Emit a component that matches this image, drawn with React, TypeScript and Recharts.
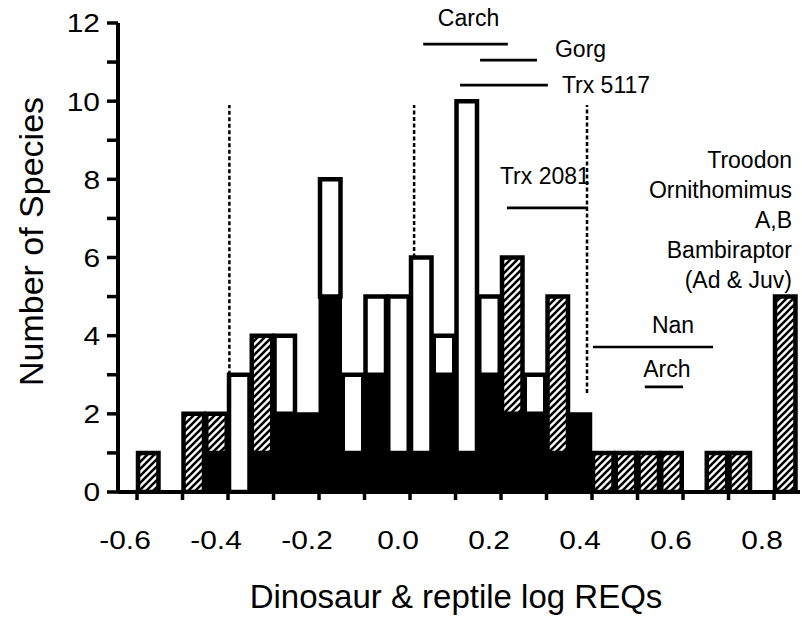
import { ComposedChart, Bar, XAxis, YAxis, ReferenceLine, ReferenceDot } from 'recharts';

const FONT = '"Liberation Sans", Arial, Helvetica, sans-serif';

// histogram bins of log REQ, 0.05 wide (left edge of each bin)
const binStart = [
  -0.6, -0.55, -0.5, -0.45, -0.4, -0.35, -0.3, -0.25, -0.2, -0.15,
  -0.1, -0.05, 0, 0.05, 0.1, 0.15, 0.2, 0.25, 0.3, 0.35,
  0.4, 0.45, 0.5, 0.55, 0.6, 0.65, 0.7, 0.75, 0.8,
];
// black part (bottom of each stack)
const solidCounts = [0, 0, 0, 1, 0, 1, 2, 2, 5, 1, 3, 1, 1, 3, 1, 3, 2, 2, 1, 2, 0, 0, 0, 0, 0, 0, 0, 0, 0];
// hatched part
const hatchedCounts = [1, 0, 2, 1, 0, 3, 0, 0, 0, 0, 0, 0, 0, 0, 0, 0, 4, 0, 4, 0, 1, 1, 1, 1, 0, 1, 1, 0, 5];
// open (white) part
const openCounts = [0, 0, 0, 0, 3, 0, 2, 0, 3, 2, 2, 4, 5, 1, 9, 2, 0, 1, 0, 0, 0, 0, 0, 0, 0, 0, 0, 0, 0];

const xTicks = [-0.6, -0.5, -0.4, -0.3, -0.2, -0.1, 0, 0.1, 0.2, 0.3, 0.4, 0.5, 0.6, 0.7, 0.8];
const yTicks = [0, 1, 2, 3, 4, 5, 6, 7, 8, 9, 10, 11, 12];

// dashed cut-off lines
const cutoffX = [-0.397, 0.009, 0.389];
const cutoffLow = [3, 6, 2.53];
const cutoffHigh = [9.9, 9.9, 9.9];

// range bars for individual taxa
const rangeNames = ['Carch', 'Gorg', 'Trx 5117', 'Trx 2081', 'Nan', 'Arch'];
const rangeLo = [0.029, 0.154, 0.11, 0.213, 0.402, 0.516];
const rangeHi = [0.215, 0.279, 0.303, 0.391, 0.666, 0.6];
const rangeAt = [11.46, 11.05, 10.41, 7.27, 3.71, 2.69];
// where each name sits relative to its bar (px)
const rangeLabelPos: { anchor: 'start' | 'middle'; dx: number; dy: number }[] = [
  { anchor: 'middle', dx: 3, dy: -18 },
  { anchor: 'start', dx: 18, dy: -3 },
  { anchor: 'start', dx: 14, dy: 8 },
  { anchor: 'start', dx: -7, dy: -24 },
  { anchor: 'middle', dx: 20, dy: -14 },
  { anchor: 'middle', dx: 3, dy: -10 },
];

const noteLines = ['Troodon', 'Ornithomimus', 'A,B', 'Bambiraptor', '(Ad & Juv)'];
const noteX = 0.8396;
const noteY = 8.29;

const bins = binStart.map((s, i) => ({
  mid: s + 0.025,
  solid: solidCounts[i],
  hatched: hatchedCounts[i],
  open: openCounts[i],
}));

const XTick = (props: any) => {
  const { x, y, payload } = props;
  const v = payload.value;
  if (Math.round(v * 10) % 2 !== 0) return <g />;
  return (
    <text
      transform={`translate(${x - 12},${y}) scale(1.15,1)`}
      textAnchor="middle"
      dy="0.72em"
      fontSize={26}
      fill="#000"
      fontFamily={FONT}
    >
      {v.toFixed(1)}
    </text>
  );
};

const YTick = (props: any) => {
  const { x, y, payload } = props;
  const v = payload.value;
  if (v % 2 !== 0) return <g />;
  return (
    <text
      transform={`translate(${x},${y}) scale(1.15,1)`}
      textAnchor="end"
      dy="0.36em"
      fontSize={26}
      fill="#000"
      fontFamily={FONT}
    >
      {v}
    </text>
  );
};

const XTitle = (props: any) => {
  const vb = props.viewBox;
  return (
    <text x={vb.x + vb.width / 2 - 3} y={vb.y + 116} textAnchor="middle" fontSize={33} fill="#000" fontFamily={FONT}>
      Dinosaur &amp; reptile log REQs
    </text>
  );
};

const YTitle = (props: any) => {
  const vb = props.viewBox;
  return (
    <text
      transform={`translate(${vb.x + 43},${vb.y + vb.height / 2 - 16}) rotate(-90)`}
      textAnchor="middle"
      fontSize={34}
      fill="#000"
      fontFamily={FONT}
    >
      Number of Species
    </text>
  );
};

const rangeShape = (i: number) => (p: any) => {
  const pos = rangeLabelPos[i];
  const left = Math.min(p.x1, p.x2);
  const right = Math.max(p.x1, p.x2);
  let tx = left + pos.dx;
  if (pos.anchor === 'middle') tx = (left + right) / 2 + pos.dx;
  if (pos.anchor === 'start' && pos.dx > 0) tx = right + pos.dx;
  return (
    <g>
      <line x1={p.x1} y1={p.y1} x2={p.x2} y2={p.y2} stroke="#000" strokeWidth={2.6} />
      <text x={tx} y={p.y1 + pos.dy} textAnchor={pos.anchor} fontSize={23} fill="#000" fontFamily={FONT}>
        {rangeNames[i]}
      </text>
    </g>
  );
};

const noteShape = (p: any) => (
  <text x={p.cx} y={p.cy} textAnchor="end" fontSize={23} fill="#000" fontFamily={FONT}>
    {noteLines.map((t, i) => (
      <tspan key={t} x={p.cx} dy={i === 0 ? 0 : 30}>
        {t}
      </tspan>
    ))}
  </text>
);

export default function App() {
  return (
    <div style={{ position: 'absolute', left: 0, top: 0, width: 802, height: 618, background: '#fff' }}>
      <ComposedChart width={800} height={616} data={bins} margin={{ top: 23, right: 0, bottom: 0, left: 0 }}>
        <defs>
          <pattern id="hatch" patternUnits="userSpaceOnUse" width={7} height={7}>
            <rect width={7} height={7} fill="#fff" />
            <path d="M-1,1 l2,-2 M0,7 l7,-7 M6,8 l2,-2" stroke="#000" strokeWidth={2.6} />
          </pattern>
        </defs>
        <XAxis
          type="number"
          dataKey="mid"
          domain={[-0.6418, 0.8571]}
          ticks={xTicks}
          interval={0}
          height={124}
          tickSize={8}
          tickMargin={30}
          tick={XTick}
          tickLine={{ stroke: '#000', strokeWidth: 3.5 }}
          axisLine={{ stroke: '#000', strokeWidth: 4 }}
          allowDataOverflow
          label={{ content: XTitle }}
        />
        <YAxis
          type="number"
          domain={[0, 12]}
          ticks={yTicks}
          interval={0}
          width={118}
          tickSize={11}
          tickMargin={7}
          tick={YTick}
          tickLine={{ stroke: '#000', strokeWidth: 3.5 }}
          axisLine={{ stroke: '#000', strokeWidth: 4 }}
          allowDataOverflow
          label={{ content: YTitle }}
        />
        <Bar dataKey="solid" stackId="s" fill="#000" stroke="#000" strokeWidth={3} barSize={23} isAnimationActive={false} />
        <Bar dataKey="hatched" stackId="s" fill="url(#hatch)" stroke="#000" strokeWidth={4.5} barSize={23} isAnimationActive={false} />
        <Bar dataKey="open" stackId="s" fill="#fff" stroke="#000" strokeWidth={4.5} barSize={23} isAnimationActive={false} />
        {cutoffX.map((x, i) => (
          <ReferenceLine
            key={'c' + i}
            segment={[{ x, y: cutoffLow[i] }, { x, y: cutoffHigh[i] }]}
            stroke="#000"
            strokeWidth={2.5}
            strokeDasharray="4 2.5"
          />
        ))}
        {rangeNames.map((n, i) => (
          <ReferenceLine
            key={n}
            segment={[{ x: rangeLo[i], y: rangeAt[i] }, { x: rangeHi[i], y: rangeAt[i] }]}
            shape={rangeShape(i)}
          />
        ))}
        <ReferenceDot x={noteX} y={noteY} r={0} shape={noteShape} />
      </ComposedChart>
    </div>
  );
}
